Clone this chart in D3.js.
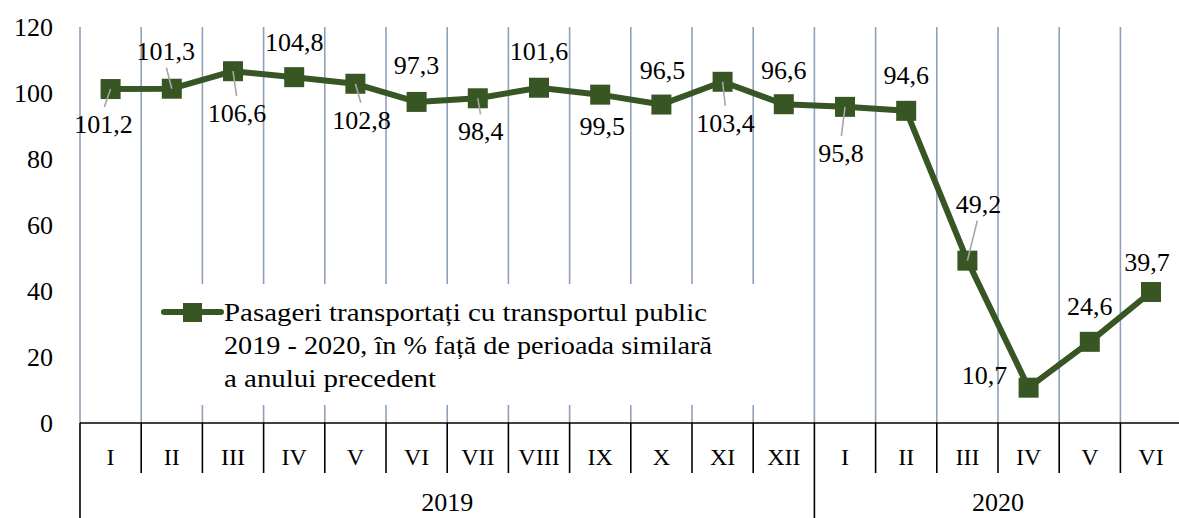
<!DOCTYPE html>
<html>
<head>
<meta charset="utf-8">
<script src="https://cdn.jsdelivr.net/npm/d3@7"></script>
<style>
  body { margin: 0; background: #fff; }
  text { font-family: "Liberation Serif", "Times New Roman", serif; fill: #000; }
</style>
</head>
<body>
<script>
// data
var months = ["I","II","III","IV","V","VI","VII","VIII","IX","X","XI","XII","I","II","III","IV","V","VI"];
var values = [101.2, 101.3, 106.6, 104.8, 102.8, 97.3, 98.4, 101.6, 99.5, 96.5, 103.4, 96.6, 95.8, 94.6, 49.2, 10.7, 24.6, 39.7];
var yearLabels = ["2019", "2020"];
var yearSpans = [12, 6];
var yTicks = [0, 20, 40, 60, 80, 100, 120];
var seriesName = ["Pasageri transportați cu transportul public", "2019 - 2020, în % față de perioada similară", "a anului precedent"];

// label placement (pixels from marker) and which labels have leader lines
var labelDx = [-7, -6, 4, 0, 6, 0, 3, 0, 2, 1, 3, 0, -4, 0, 11, -44, 0, -4];
var labelDy = [35, -38, 42, -35, 36, -37, 33, -37, 31, -35, 41, -34, 46, -36, -57, -13, -36, -30];
var leader  = [1, 1, 1, 0, 1, 0, 1, 0, 0, 0, 1, 0, 1, 0, 1, 0, 0, 0];
// legend line widths as drawn in the original (wider font there)
var legendWidths = [483, 488, 212];

var W = 1179, H = 518;
var green = "#375623";
var gridColor = "#8EA0BC";

var svg = d3.select("body").append("svg").attr("width", W).attr("height", H);

var x = d3.scaleBand()
    .domain(d3.range(values.length))
    .range([80, 80 + 61.2 * values.length])
    .padding(0);

var y = d3.scaleLinear().domain([0, 120]).range([423, 27]);

// vertical gridlines at category boundaries
var bounds = d3.range(values.length + 1).map(function(i) { return 80 + x.step() * i; });
svg.append("g").selectAll("line")
  .data(bounds)
  .enter().append("line")
    .attr("x1", function(d) { return d; })
    .attr("x2", function(d) { return d; })
    .attr("y1", y(120))
    .attr("y2", y(0))
    .attr("stroke", gridColor)
    .attr("stroke-width", 1.6);

// y tick labels
svg.append("g").selectAll("text")
  .data(yTicks)
  .enter().append("text")
    .attr("x", 53)
    .attr("y", function(d) { return y(d); })
    .attr("dy", "0.35em")
    .attr("text-anchor", "end")
    .style("font-size", "26px")
    .text(function(d) { return d; });

// category axis
svg.append("line")
    .attr("x1", 80).attr("x2", W)
    .attr("y1", y(0)).attr("y2", y(0))
    .attr("stroke", "#000").attr("stroke-width", 1.6);

var yearBounds = [0];
yearSpans.forEach(function(s, i) { yearBounds.push(yearBounds[i] + s); });

svg.append("g").selectAll("line")
  .data(d3.range(values.length + 1))
  .enter().append("line")
    .attr("x1", function(i) { return 80 + x.step() * i; })
    .attr("x2", function(i) { return 80 + x.step() * i; })
    .attr("y1", y(0))
    .attr("y2", function(i) { return yearBounds.indexOf(i) >= 0 ? H : 473; })
    .attr("stroke", "#000").attr("stroke-width", 1.6);

svg.append("g").selectAll("text")
  .data(months)
  .enter().append("text")
    .attr("x", function(d, i) { return x(i) + x.bandwidth() / 2; })
    .attr("y", 457)
    .attr("dy", "0.35em")
    .attr("text-anchor", "middle")
    .style("font-size", "24px")
    .text(function(d) { return d; });

svg.append("g").selectAll("text")
  .data(yearLabels)
  .enter().append("text")
    .attr("x", function(d, i) {
      var a = 80 + x.step() * yearBounds[i], b = 80 + x.step() * yearBounds[i + 1];
      return (a + b) / 2;
    })
    .attr("y", 502)
    .attr("dy", "0.35em")
    .attr("text-anchor", "middle")
    .style("font-size", "26px")
    .text(function(d) { return d; });

// legend box (white, covers the gridlines)
var lg = svg.append("g");
lg.append("rect")
    .attr("x", 150).attr("y", 284)
    .attr("width", 612).attr("height", 121)
    .attr("fill", "#fff");
lg.append("line")
    .attr("x1", 164).attr("x2", 221)
    .attr("y1", 312).attr("y2", 312)
    .attr("stroke", green).attr("stroke-width", 6).attr("stroke-linecap", "round");
lg.append("rect")
    .attr("x", 183).attr("y", 303)
    .attr("width", 19).attr("height", 19)
    .attr("fill", green);
lg.selectAll("text")
  .data(seriesName)
  .enter().append("text")
    .attr("x", 224)
    .attr("y", function(d, i) { return 312 + i * 33; })
    .attr("dy", "0.35em")
    .attr("textLength", function(d, i) { return legendWidths[i]; })
    .attr("lengthAdjust", "spacingAndGlyphs")
    .style("font-size", "25px")
    .text(function(d) { return d; });

// the series line
var cx = function(d, i) { return x(i) + x.bandwidth() / 2; };
var line = d3.line()
    .x(function(d, i) { return cx(d, i); })
    .y(function(d) { return y(d); });

svg.append("path")
    .datum(values)
    .attr("d", line)
    .attr("fill", "none")
    .attr("stroke", green)
    .attr("stroke-width", 6)
    .attr("stroke-linejoin", "round");

svg.append("g").selectAll("rect")
  .data(values)
  .enter().append("rect")
    .attr("x", function(d, i) { return cx(d, i) - 10; })
    .attr("y", function(d) { return y(d) - 10; })
    .attr("width", 20)
    .attr("height", 20)
    .attr("fill", green);

// leader lines
svg.append("g").selectAll("line")
  .data(values.map(function(v, i) { return i; }).filter(function(i) { return leader[i]; }))
  .enter().append("line")
    .attr("x1", function(i) { return cx(values[i], i); })
    .attr("y1", function(i) { return y(values[i]); })
    .attr("x2", function(i) { return cx(values[i], i) + labelDx[i] * 0.9; })
    .attr("y2", function(i) { return y(values[i]) + labelDy[i] + (labelDy[i] > 0 ? -17 : 17); })
    .attr("stroke", "#A6A6A6")
    .attr("stroke-width", 1.6);

// data labels
svg.append("g").selectAll("text")
  .data(values)
  .enter().append("text")
    .attr("x", function(d, i) { return cx(d, i) + labelDx[i]; })
    .attr("y", function(d, i) { return y(d) + labelDy[i]; })
    .attr("dy", "0.35em")
    .attr("text-anchor", "middle")
    .style("font-size", "26px")
    .text(function(d) { return d3.format(".1f")(d).replace(".", ","); });
</script>
</body>
</html>
